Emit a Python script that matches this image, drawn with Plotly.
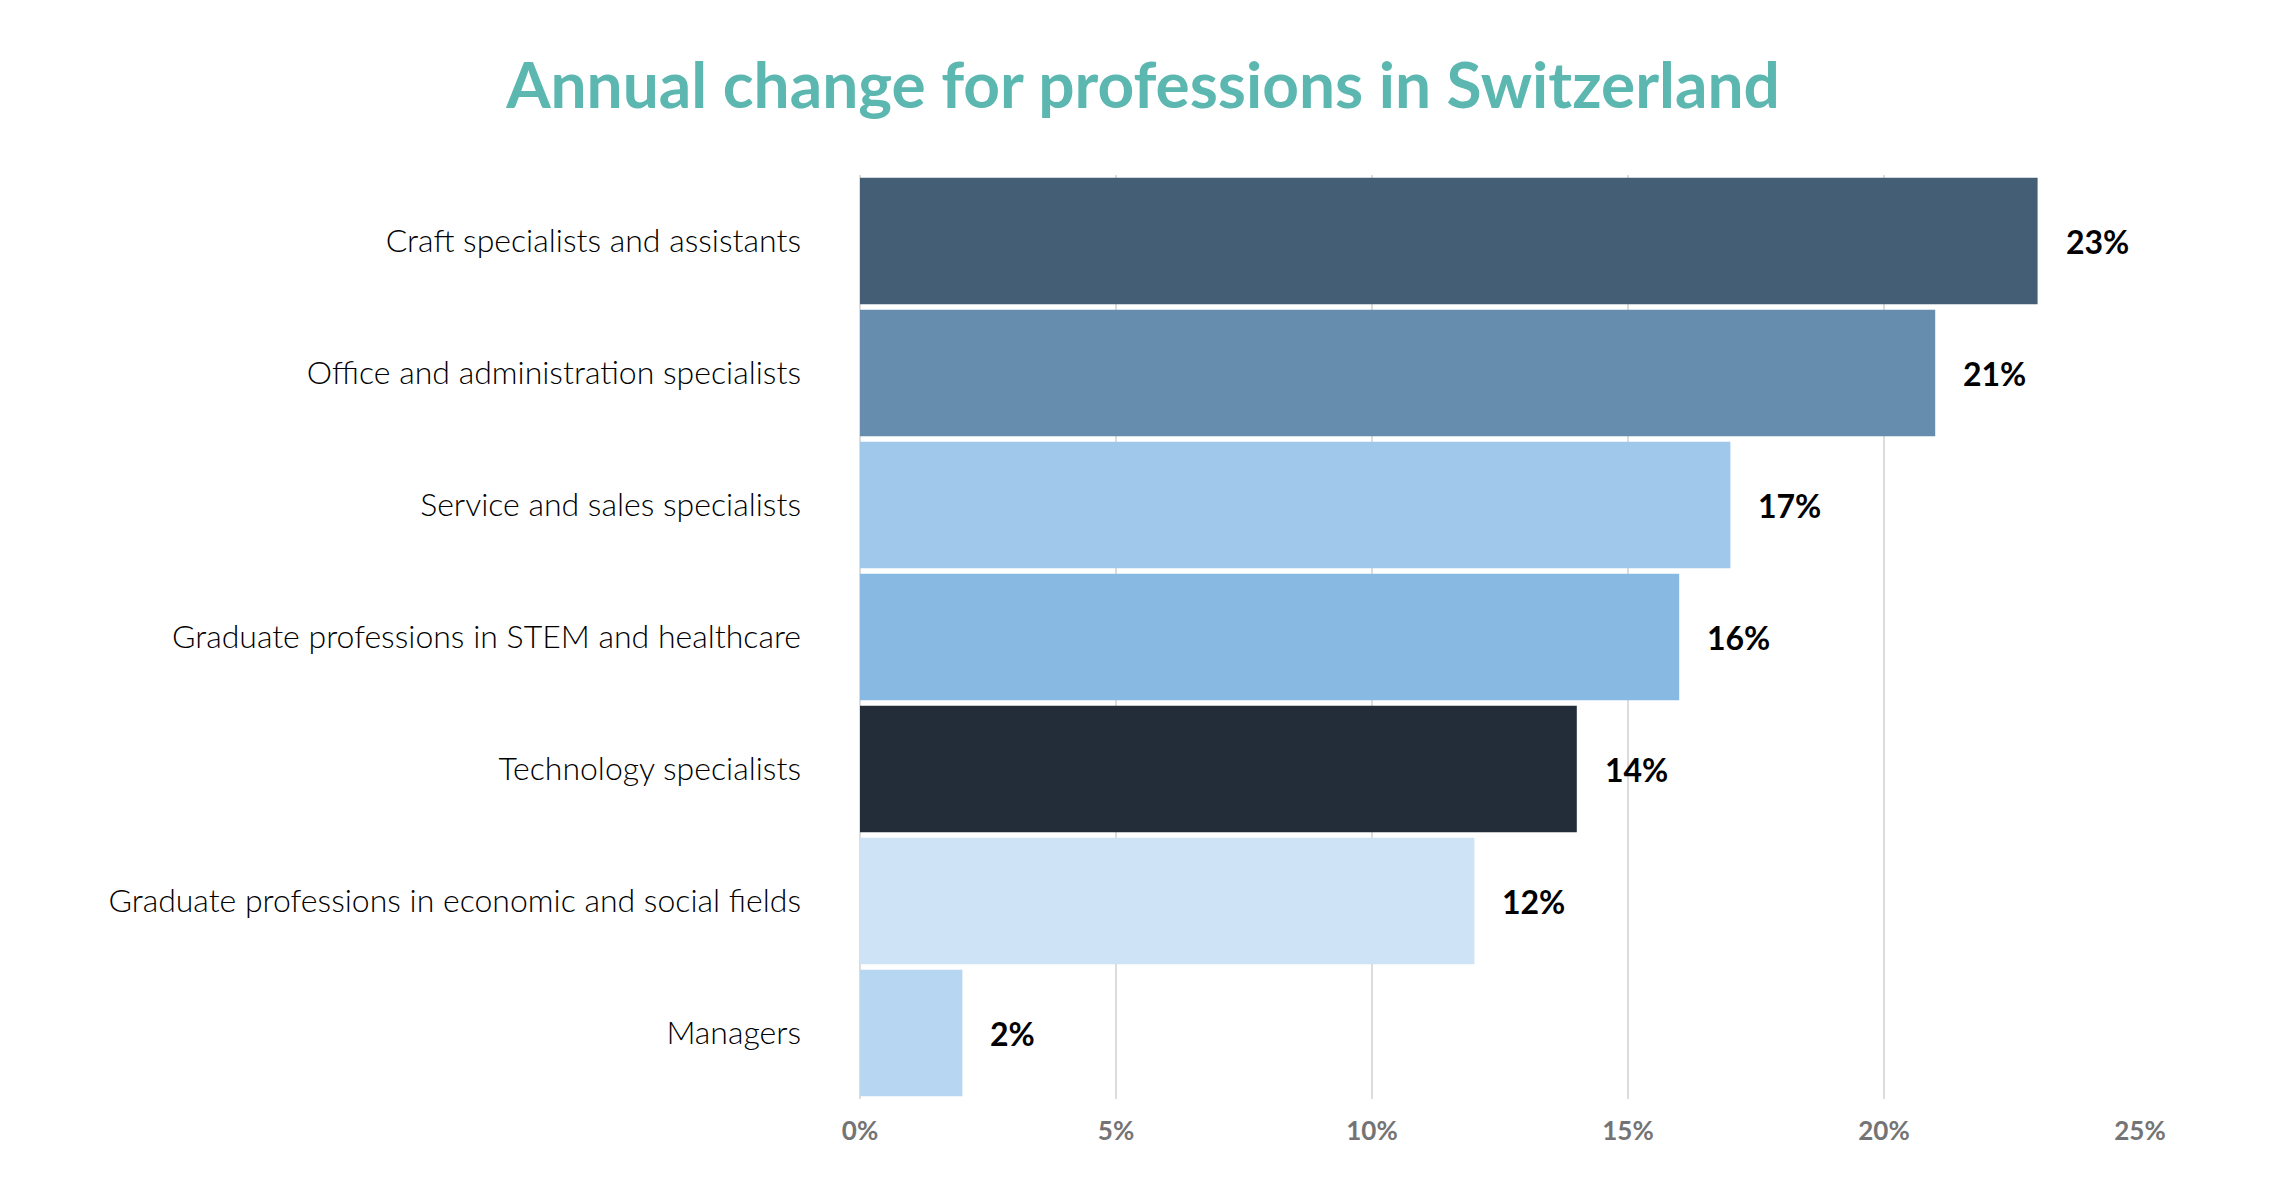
import plotly.graph_objects as go

categories = [
    "Craft specialists and assistants",
    "Office and administration specialists",
    "Service and sales specialists",
    "Graduate professions in STEM and healthcare",
    "Technology specialists",
    "Graduate professions in economic and social fields",
    "Managers",
]
values = [23, 21, 17, 16, 14, 12, 2]
bar_colors = ["#445f75", "#668cae", "#9fc8ea", "#87b9e3", "#222d39", "#cfe3f6", "#b7d6f1"]
tick_vals = [0, 5, 10, 15, 20, 25]
tick_text = ["0%", "5%", "10%", "15%", "20%", "25%"]

fig = go.Figure()
fig.add_trace(go.Bar(
    x=values, y=categories, orientation="h",
    marker=dict(color=bar_colors, line=dict(width=0)),
    hoverinfo="skip",
))

for v, c in zip(values, categories):
    fig.add_annotation(
        x=v, y=c, text=f"{v}%", showarrow=False,
        xanchor="left", yanchor="middle", xshift=26,
        font=dict(family="Lato", size=32, color="#000000", weight="bold"),
    )

fig.update_layout(
    width=2280, height=1180,
    paper_bgcolor="white", plot_bgcolor="white",
    margin=dict(l=852, r=148, t=167, b=89),
    showlegend=False,
    bargap=0.04,
    title=dict(
        text="Annual change for professions in Switzerland",
        x=0.4978, xanchor="center", y=0.934, yanchor="middle", yref="container",
        font=dict(family="Lato", size=64, color="#5bb7b0", weight="bold"),
    ),
    xaxis=dict(
        range=[0, 25], tickvals=tick_vals, ticktext=tick_text,
        showgrid=True, gridcolor="#dcdcdc", gridwidth=1.5,
        zeroline=True, zerolinecolor="#dcdcdc", zerolinewidth=1.5,
        showline=False, ticks="", ticklabelstandoff=14,
        tickfont=dict(family="Lato", size=26, color="#747474", weight="bold"),
        fixedrange=True,
    ),
    yaxis=dict(
        categoryorder="array", categoryarray=categories, autorange="reversed",
        showgrid=False, zeroline=False, showline=False, ticks="",
        ticklabelstandoff=58,
        tickfont=dict(family="Lato", size=32, color="#000000", weight=300),
        fixedrange=True,
    ),
)

fig.write_html("out.html")
